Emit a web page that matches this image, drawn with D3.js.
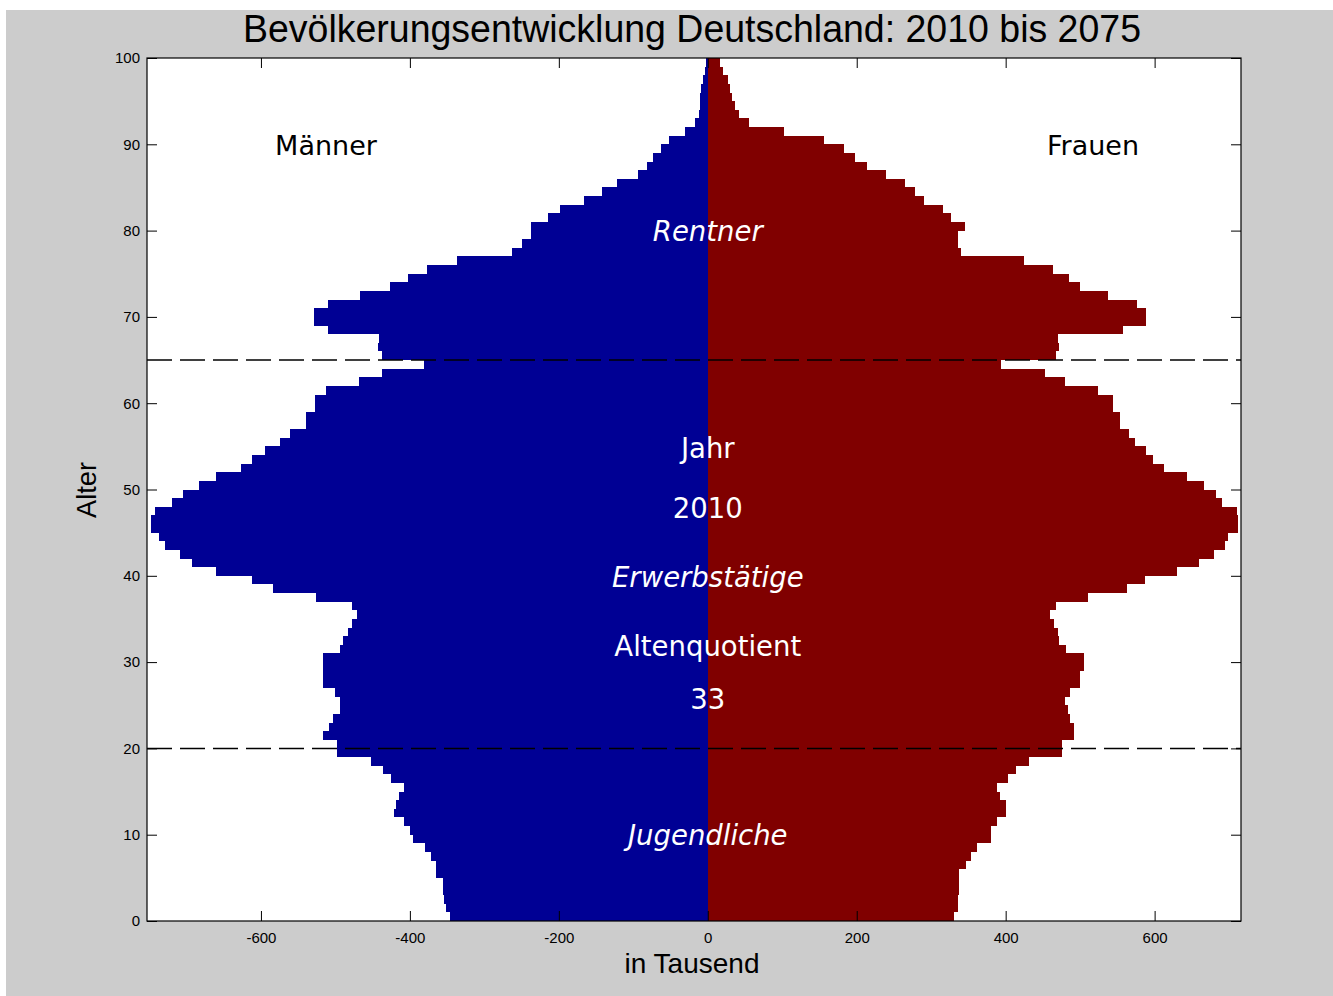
<!DOCTYPE html>
<html>
<head>
<meta charset="utf-8">
<script src="https://cdn.jsdelivr.net/npm/d3@7"></script>
<style>
  body { margin: 0; background: #ffffff; }
  svg { display: block; }
</style>
</head>
<body>
<div id="chart"></div>
<script>
// Bevoelkerung 2010, je Altersjahr (in Tausend)
const ages = d3.range(0, 100);
const maenner = [
  346, 351, 354, 355, 355, 365, 365, 372, 380, 396,
  400, 408, 421, 418, 415, 408, 425, 436, 452, 498,
  498, 516, 508, 503, 494, 494, 501, 516, 516, 517,
  517, 494, 490, 483, 478, 471, 478, 526, 584, 612,
  660, 692, 709, 729, 737, 747, 747, 742, 719, 704,
  683, 660, 627, 612, 595, 575, 561, 539, 539, 528,
  528, 512, 468, 437, 381, 438, 443, 442, 510, 529,
  529, 510, 467, 427, 402, 377, 337, 263, 250, 238,
  238, 215, 199, 166, 142, 122, 94, 81, 73, 63,
  52, 31, 17, 12, 11, 10, 9, 6, 4, 2
];
const frauen = [
  330, 336, 336, 337, 337, 338, 347, 354, 361, 380,
  380, 388, 401, 401, 393, 389, 403, 414, 431, 475,
  475, 492, 492, 487, 484, 480, 487, 500, 500, 505,
  505, 481, 472, 470, 465, 460, 467, 511, 563, 587,
  630, 660, 680, 695, 699, 712, 712, 711, 690, 683,
  666, 643, 612, 598, 588, 573, 566, 553, 553, 544,
  544, 524, 479, 453, 394, 467, 472, 470, 557, 588,
  588, 576, 537, 500, 485, 463, 424, 340, 336, 336,
  346, 327, 316, 290, 278, 265, 239, 214, 198, 183,
  156, 103, 55, 42, 37, 33, 30, 27, 20, 17
];
const xTicks = [-600, -400, -200, 0, 200, 400, 600];
const yTicks = [0, 10, 20, 30, 40, 50, 60, 70, 80, 90, 100];
const grenzen = [20, 65];   // Jugendliche / Erwerbstaetige / Rentner
const jahr = "2010";
const altenquotient = "33";

console.log("started");

let width = 1333;
let height = 996;
let blau = "#000094";
let rot = "#800000";

let svg = d3.select("#chart").append("svg")
    .attr("width", width)
    .attr("height", height);

// grauer Figurenhintergrund
svg.append("rect")
    .attr("x", 6).attr("y", 10)
    .attr("width", width - 6).attr("height", height - 10)
    .attr("fill", "#cccccc");

let plot = { left: 147, right: 1241, top: 58, bottom: 921 };

let x = d3.scaleLinear().domain([-753, 716]).range([plot.left, plot.right]);
let y = d3.scaleLinear().domain([0, 100]).range([plot.bottom, plot.top]);

svg.append("rect")
    .attr("x", plot.left).attr("y", plot.top)
    .attr("width", plot.right - plot.left)
    .attr("height", plot.bottom - plot.top)
    .attr("fill", "#ffffff");

let bars = svg.append("g").attr("shape-rendering", "crispEdges");

bars.selectAll(".m")
    .data(ages)
    .join("rect")
    .attr("class", "m")
    .attr("x", (d, i) => x(-maenner[i]))
    .attr("y", d => y(d + 1))
    .attr("width", (d, i) => x(0) - x(-maenner[i]))
    .attr("height", d => y(d) - y(d + 1))
    .attr("fill", blau);

bars.selectAll(".f")
    .data(ages)
    .join("rect")
    .attr("class", "f")
    .attr("x", x(0))
    .attr("y", d => y(d + 1))
    .attr("width", (d, i) => x(frauen[i]) - x(0))
    .attr("height", d => y(d) - y(d + 1))
    .attr("fill", rot);

// gestrichelte Altersgrenzen
svg.selectAll(".grenze")
    .data(grenzen)
    .join("line")
    .attr("class", "grenze")
    .attr("x1", plot.left).attr("x2", plot.right)
    .attr("y1", d => y(d)).attr("y2", d => y(d))
    .attr("stroke", "#000")
    .attr("stroke-width", 1.5)
    .attr("stroke-dasharray", "25,8");

// Achsen, Ticks nach innen wie bei Matlab
let tickFont = "'Liberation Sans', Arial, sans-serif";
let plain = d => String(d);   // normales Minus statt U+2212

svg.append("g")
    .attr("transform", `translate(0,${plot.bottom})`)
    .call(d3.axisBottom(x).tickValues(xTicks).tickFormat(plain)
      .tickSizeInner(-10).tickSizeOuter(0).tickPadding(11));
svg.append("g")
    .attr("transform", `translate(0,${plot.top})`)
    .call(d3.axisTop(x).tickValues(xTicks).tickSizeInner(-10).tickSizeOuter(0).tickFormat(""));
svg.append("g")
    .attr("transform", `translate(${plot.left},0)`)
    .call(d3.axisLeft(y).tickValues(yTicks).tickFormat(plain)
      .tickSizeInner(-10).tickSizeOuter(0).tickPadding(7));
svg.append("g")
    .attr("transform", `translate(${plot.right},0)`)
    .call(d3.axisRight(y).tickValues(yTicks).tickSizeInner(-10).tickSizeOuter(0).tickFormat(""));

svg.selectAll(".domain").remove();
svg.selectAll(".tick line").attr("stroke", "#000");
svg.selectAll(".tick text")
    .attr("font-family", tickFont)
    .attr("font-size", 15)
    .attr("fill", "#000");

svg.append("rect")
    .attr("x", plot.left).attr("y", plot.top)
    .attr("width", plot.right - plot.left)
    .attr("height", plot.bottom - plot.top)
    .attr("fill", "none")
    .attr("stroke", "#000")
    .attr("stroke-width", 1.2);

// Beschriftungen
svg.append("text")
    .attr("x", 692).attr("y", 42)
    .attr("text-anchor", "middle")
    .attr("font-family", tickFont)
    .attr("font-size", 38)
    .attr("textLength", 898)
    .attr("lengthAdjust", "spacingAndGlyphs")
    .text("Bevölkerungsentwicklung Deutschland: 2010 bis 2075");

svg.append("text")
    .attr("x", 692).attr("y", 973)
    .attr("text-anchor", "middle")
    .attr("font-family", tickFont)
    .attr("font-size", 28)
    .attr("textLength", 135)
    .attr("lengthAdjust", "spacingAndGlyphs")
    .text("in Tausend");

svg.append("text")
    .attr("transform", "translate(96,490) rotate(-90)")
    .attr("text-anchor", "middle")
    .attr("font-family", tickFont)
    .attr("font-size", 28)
    .attr("textLength", 56)
    .attr("lengthAdjust", "spacingAndGlyphs")
    .text("Alter");

let labelFont = "'DejaVu Sans', Verdana, sans-serif";

svg.append("text")
    .attr("x", 326).attr("y", 155)
    .attr("text-anchor", "middle")
    .attr("font-family", labelFont).attr("font-size", 27)
    .text("Männer");
svg.append("text")
    .attr("x", 1093).attr("y", 155)
    .attr("text-anchor", "middle")
    .attr("font-family", labelFont).attr("font-size", 27)
    .text("Frauen");

let mitte = [
  { t: "Rentner", y: 241, kursiv: true },
  { t: "Jahr", y: 458, kursiv: false },
  { t: jahr, y: 518, kursiv: false },
  { t: "Erwerbstätige", y: 587, kursiv: true },
  { t: "Altenquotient", y: 656, kursiv: false },
  { t: altenquotient, y: 709, kursiv: false },
  { t: "Jugendliche", y: 845, kursiv: true }
];

svg.selectAll(".mitte")
    .data(mitte)
    .join("text")
    .attr("class", "mitte")
    .attr("x", x(0))
    .attr("y", d => d.y)
    .attr("text-anchor", "middle")
    .attr("font-family", labelFont)
    .attr("font-size", 27.5)
    .attr("font-style", d => d.kursiv ? "italic" : "normal")
    .attr("fill", "#ffffff")
    .text(d => d.t);
</script>
</body>
</html>
